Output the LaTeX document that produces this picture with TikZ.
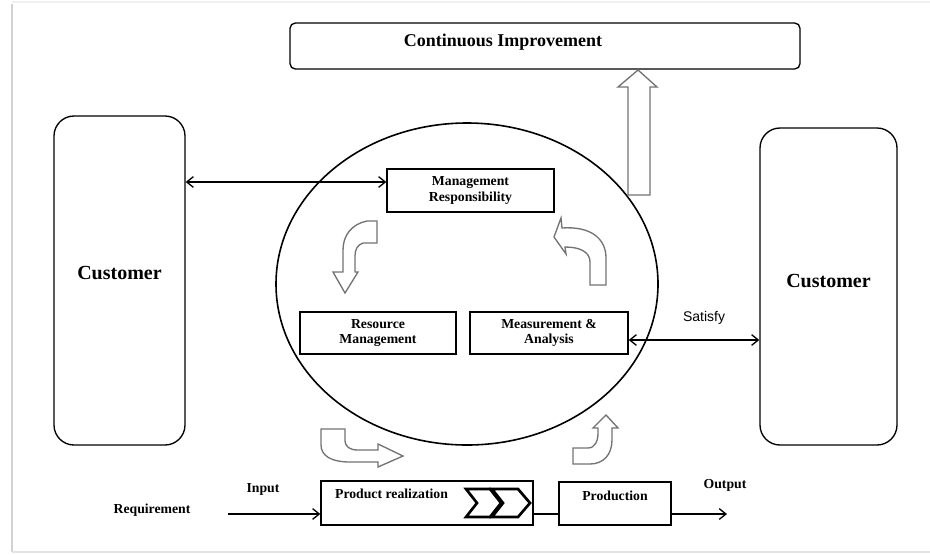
\documentclass[tikz,border=0pt]{standalone}
\usepackage{fontspec}
\setmainfont{Liberation Serif}
\newfontfamily\satfont{Liberation Sans}
\usetikzlibrary{arrows.meta}

\begin{document}
\begin{tikzpicture}[x=0.75pt,y=-0.75pt,
    >={Straight Barb[length=5pt,width=8pt]},
    box/.style={draw,line width=1pt,fill=white,inner sep=0pt},
    lbl/.style={font=\bfseries\fontsize{10.3}{11.5}\selectfont,align=center},
    biglbl/.style={font=\bfseries\fontsize{15}{17}\selectfont},
    blockarr/.style={draw=black!55,line width=1pt,fill=white},
    conn/.style={line width=1pt}]
    % Рамка
    \useasboundingbox (0,0) rectangle (930,554);
    \draw[gray!12,line width=2pt] (12,2) -- (930,2);
    \draw[gray!35,line width=2pt] (12,4) -- (12,552);
    \draw[gray!22,line width=1.5pt] (12,552) -- (930,552);

    % Эллипс
    \draw[line width=1.2pt] (467,284) ellipse [x radius=191, y radius=161];

    % Блоки
    \node[box,rounded corners=4pt,minimum width=382.5pt,minimum height=34.5pt] (ci) at (545,46) {};
    \node[font=\bfseries\fontsize{13.5}{16}\selectfont] (citxt) at (503,42) {Continuous Improvement};
    \node[box,rounded corners=15pt,minimum width=98.25pt,minimum height=246.75pt] (custL) at (119.5,280.5) {};
    \node[biglbl] (custLtxt) at (119.5,273) {Customer};
    \node[box,rounded corners=15pt,minimum width=102.75pt,minimum height=237.75pt] (custR) at (828.5,286.5) {};
    \node[biglbl] (custRtxt) at (828.5,281) {Customer};
    \node[box,lbl,minimum width=125.25pt,minimum height=32.25pt] (mgmt) at (470.5,190.5) {Management\\Responsibility};
    \node[box,lbl,minimum width=117pt,minimum height=31.5pt] (res) at (378,333) {Resource\\Management};
    \node[box,lbl,minimum width=118.5pt,minimum height=31.5pt] (meas) at (549,333) {Measurement \&\\Analysis};
    \node[box,minimum width=159pt,minimum height=33pt] (prod) at (427,503) {};
    \node[lbl] (prodtxt) at (391.5,494) {Product realization};
    \node[box,minimum width=84pt,minimum height=32.25pt] (prodn) at (615,503.5) {};
    \node[lbl] (prodntxt) at (615,496) {Production};

    % Шевроны
    \draw[line width=2pt,fill=white,line join=miter] (466,489) -- (490,489) -- (501,503) -- (490,517) -- (466,517) -- (477,503) -- cycle;
    \draw[line width=2pt,fill=white,line join=miter] (492,489) -- (518,489) -- (530,503) -- (518,517) -- (492,517) -- (503,503) -- cycle;

    % Объёмные стрелки
    \draw[blockarr] (628,195) -- (628,87) -- (618,87) -- (638,70) -- (657,87) -- (650,87) -- (650,195) -- cycle;
    \draw[blockarr] (367,221) -- (377,221) -- (377,243) -- (363,243) .. controls (357,245) and (355,250) .. (355,256) -- (355,272) -- (358,272) -- (345,293) -- (333,272) -- (343,272) -- (343,250) .. controls (343,235) and (352,224) .. (367,221) -- cycle;
    \draw[blockarr] (590,285) -- (590,262) .. controls (590,252) and (580,247) .. (565,247) -- (566,254) -- (554,237) -- (561,218) -- (562,228) .. controls (590,226) and (606,238) .. (606,258) -- (606,285) -- cycle;
    \draw[blockarr] (321,429) -- (345,429) -- (345,440) .. controls (345,447) and (350,450) .. (358,450) -- (378,450) -- (378,444) -- (403,456) -- (378,467) -- (378,462) -- (350,462) .. controls (330,462) and (321,455) .. (321,445) -- cycle;
    \draw[blockarr] (573,464) -- (573,448) -- (588,448) .. controls (595,448) and (598,441) .. (598,433) -- (598,428) -- (593,428) -- (606,415) -- (618,428) -- (612,428) -- (612,440) .. controls (612,455) and (603,464) .. (590,464) -- cycle;

    % Связи
    \draw[conn,<->] (custL.east |- 0,182) -- (mgmt.west |- 0,182);
    \draw[conn,<->] (meas.east |- 0,340) -- (custR.west |- 0,340);
    \coordinate (req) at (228,514);
    \coordinate (out) at (727,514);
    \draw[conn,->] (req) -- (prod.west |- req);
    \draw[conn] (prod.east |- req) -- (prodn.west |- req);
    \draw[conn,->] (prodn.east |- out) -- (out);

    % Подписи
    \node[lbl] (reqtxt) at (152,510) {Requirement};
    \node[lbl] (intxt) at (263,489) {Input};
    \node[lbl] (outtxt) at (725,485) {Output};
    \node[font=\satfont\fontsize{10.5}{12}\selectfont] (sattxt) at (704,318) {Satisfy};
\end{tikzpicture}
\end{document}
